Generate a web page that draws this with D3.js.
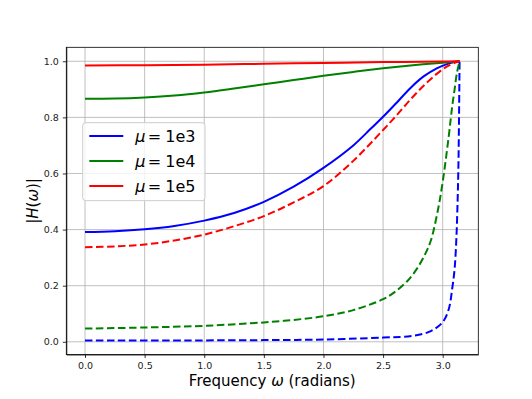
<!DOCTYPE html>
<html>
<head>
<meta charset="utf-8">
<script src="https://cdn.jsdelivr.net/npm/d3@7"></script>
<style>
body { margin: 0; background: #fff; }
text { font-family: "DejaVu Sans", sans-serif; fill: #000; }
.grid line { stroke: #b0b0b0; stroke-width: 0.8; }
.axis path, .axis line { stroke: #000; stroke-width: 0.8; }
.axis text { font-size: 9.5px; fill: #222; }
</style>
</head>
<body>
<svg class="chart"></svg>
<script>

//
// data
//

// solid curves
var w_b1 = [0, 0.25, 0.5, 0.75, 1.0, 1.25, 1.5, 1.75, 2.0, 2.25, 2.4, 2.5, 2.62, 2.73, 2.84, 2.95, 3.03, 3.1, 3.1416];
var h_b1 = [0.391, 0.394, 0.401, 0.413, 0.432, 0.459, 0.499, 0.553, 0.620, 0.700, 0.761, 0.802, 0.855, 0.905, 0.946, 0.975, 0.989, 0.997, 1.0];

var w_g1 = [0, 0.25, 0.5, 0.75, 1.0, 1.25, 1.5, 1.75, 2.0, 2.25, 2.5, 2.75, 3.0, 3.1416];
var h_g1 = [0.866, 0.867, 0.871, 0.878, 0.889, 0.903, 0.918, 0.933, 0.948, 0.962, 0.975, 0.986, 0.995, 1.0];

var w_r1 = [0, 0.5, 1.0, 1.5, 2.0, 2.5, 3.0, 3.1416];
var h_r1 = [0.985, 0.986, 0.988, 0.991, 0.994, 0.997, 0.999, 1.0];

// dashed curves
var w_b2 = [0, 1.0, 1.5, 2.0, 2.5, 2.75, 2.9, 3.0, 3.05, 3.08, 3.1, 3.115, 3.125, 3.132, 3.137, 3.1416];
var h_b2 = [0.005, 0.005, 0.006, 0.008, 0.015, 0.021, 0.038, 0.07, 0.115, 0.19, 0.26, 0.37, 0.5, 0.63, 0.8, 1.0];

var w_g2 = [0, 0.5, 1.0, 1.5, 1.75, 2.0, 2.25, 2.5, 2.6, 2.7, 2.78, 2.85, 2.9, 2.96, 3.0, 3.05, 3.08, 3.1, 3.12, 3.1416];
var h_g2 = [0.047, 0.051, 0.057, 0.069, 0.078, 0.091, 0.113, 0.152, 0.178, 0.215, 0.258, 0.31, 0.36, 0.47, 0.57, 0.73, 0.84, 0.9, 0.96, 1.0];

var w_r2 = [0, 0.25, 0.5, 0.75, 1.0, 1.25, 1.5, 1.75, 2.0, 2.25, 2.5, 2.615, 2.726, 2.838, 2.95, 3.03, 3.118, 3.1416];
var h_r2 = [0.337, 0.340, 0.347, 0.361, 0.382, 0.412, 0.448, 0.497, 0.555, 0.645, 0.755, 0.808, 0.862, 0.912, 0.955, 0.980, 0.997, 1.0];

var legend_labels = ["1e3", "1e4", "1e5"];
var x_ticks = [0, 0.5, 1.0, 1.5, 2.0, 2.5, 3.0];
var y_ticks = [0, 0.2, 0.4, 0.6, 0.8, 1.0];

var series = [
    { w: w_b1, h: h_b1, color: "#0000ff", dash: null },
    { w: w_g1, h: h_g1, color: "#008000", dash: null },
    { w: w_r1, h: h_r1, color: "#ff0000", dash: null },
    { w: w_b2, h: h_b2, color: "#0000ff", dash: "7.5,3.5" },
    { w: w_g2, h: h_g2, color: "#008000", dash: "7.5,3.5" },
    { w: w_r2, h: h_r2, color: "#ff0000", dash: "7.5,3.5" }
];

//
// scene
//

var width = 532, height = 399;
var m_left = 66.3, m_right = 478.3, m_top = 47.3, m_bottom = 354.5;

var svg = d3.select(".chart")
    .attr("width", width)
    .attr("height", height);

var x = d3.scaleLinear().domain([-0.1571, 3.2987]).range([m_left, m_right]);
var y = d3.scaleLinear().domain([-0.0453, 1.0498]).range([m_bottom, m_top]);

// grid
var grid = svg.append("g").attr("class", "grid");
grid.selectAll("line.gx")
    .data(x_ticks)
    .enter().append("line")
    .attr("class", "gx")
    .attr("x1", function (d) { return x(d); })
    .attr("x2", function (d) { return x(d); })
    .attr("y1", m_top)
    .attr("y2", m_bottom);
grid.selectAll("line.gy")
    .data(y_ticks)
    .enter().append("line")
    .attr("class", "gy")
    .attr("x1", m_left)
    .attr("x2", m_right)
    .attr("y1", function (d) { return y(d); })
    .attr("y2", function (d) { return y(d); });

// curves
var line = d3.line()
    .x(function (d) { return x(d[0]); })
    .y(function (d) { return y(d[1]); })
    .curve(d3.curveCatmullRom.alpha(0.5));

svg.append("g").selectAll("path")
    .data(series)
    .enter().append("path")
    .attr("d", function (s) { return line(d3.zip(s.w, s.h)); })
    .attr("fill", "none")
    .attr("stroke", function (s) { return s.color; })
    .attr("stroke-width", 2)
    .attr("stroke-dasharray", function (s) { return s.dash; });

// axes
var fmt = d3.format(".1f");
svg.append("g")
    .attr("class", "axis")
    .attr("transform", "translate(0," + m_bottom + ")")
    .call(d3.axisBottom(x).tickValues(x_ticks).tickFormat(fmt).tickSize(3.5).tickPadding(4).tickSizeOuter(0));
svg.append("g")
    .attr("class", "axis")
    .attr("transform", "translate(" + m_left + ",0)")
    .call(d3.axisLeft(y).tickValues(y_ticks).tickFormat(fmt).tickSize(3.5).tickPadding(4).tickSizeOuter(0));

// frame
svg.append("rect")
    .attr("x", m_left)
    .attr("y", m_top)
    .attr("width", m_right - m_left)
    .attr("height", m_bottom - m_top)
    .attr("fill", "none")
    .attr("stroke", "#000")
    .attr("stroke-width", 0.8);

// axis labels
var xl = svg.append("text")
    .attr("x", (m_left + m_right) / 2)
    .attr("y", 386)
    .attr("text-anchor", "middle")
    .style("font-size", "15px");
xl.append("tspan").text("Frequency ");
xl.append("tspan").style("font-style", "italic").text("ω");
xl.append("tspan").text(" (radians)");

var yl = svg.append("text")
    .attr("transform", "translate(38," + ((m_top + m_bottom) / 2) + ") rotate(-90)")
    .attr("text-anchor", "middle")
    .style("font-size", "15px");
yl.append("tspan").text("|");
yl.append("tspan").style("font-style", "italic").text("H");
yl.append("tspan").text("(");
yl.append("tspan").style("font-style", "italic").text("ω");
yl.append("tspan").text(")|");

//
// legend
//

var legend = svg.append("g").attr("transform", "translate(82.7,122.7)");
legend.append("rect")
    .attr("width", 122.3)
    .attr("height", 78)
    .attr("rx", 3)
    .attr("fill", "#fff")
    .attr("fill-opacity", 0.8)
    .attr("stroke", "#cccccc")
    .attr("stroke-width", 1);

var rows = legend.selectAll("g.row")
    .data(series.slice(0, 3))
    .enter().append("g")
    .attr("class", "row")
    .attr("transform", function (d, i) { return "translate(0," + (13.3 + 25 * i) + ")"; });
rows.append("line")
    .attr("x1", 6.6)
    .attr("x2", 40.6)
    .attr("stroke", function (d) { return d.color; })
    .attr("stroke-width", 2);
var lt = rows.append("text")
    .attr("y", 6)
    .style("font-size", "16px");
lt.append("tspan").attr("x", 52.5).style("font-style", "italic").text("μ");
lt.append("tspan").attr("x", 65).text("=");
lt.append("tspan").attr("x", 82.5).text(function (d, i) { return legend_labels[i]; });

</script>
</body>
</html>
